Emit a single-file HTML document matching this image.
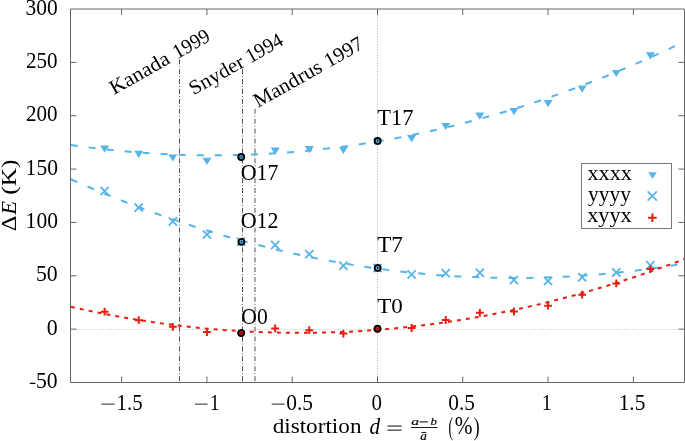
<!DOCTYPE html>
<html><head><meta charset="utf-8"><title>plot</title>
<style>
html,body{margin:0;padding:0;background:#fff;}
body{width:685px;height:441px;overflow:hidden;}
svg{display:block;will-change:transform;}
text{font-family:"Liberation Serif",serif;}
</style></head><body>
<svg width="685" height="441" viewBox="0 0 685 441" font-family="Liberation Serif, serif">
<rect width="685" height="441" fill="#fff"/>
<defs><clipPath id="c"><rect x="70.5" y="9.0" width="614.0" height="373.5"/></clipPath></defs>
<line x1="70.5" y1="329.5" x2="684.5" y2="329.5" stroke="#b8b8b8" stroke-width="0.8" stroke-dasharray="1 1.7"/>
<line x1="377.5" y1="9.0" x2="377.5" y2="382.5" stroke="#a0a0a0" stroke-width="0.8" stroke-dasharray="1 1.7"/>
<line x1="179.5" y1="57.5" x2="179.5" y2="382.5" stroke="#505050" stroke-width="1" stroke-dasharray="5 2 0.9 2" stroke-dashoffset="8.10"/>
<line x1="242.5" y1="68.5" x2="242.5" y2="382.5" stroke="#505050" stroke-width="1" stroke-dasharray="5 2 0.9 2" stroke-dashoffset="9.20"/>
<line x1="255.0" y1="108.6" x2="255.0" y2="382.5" stroke="#505050" stroke-width="1" stroke-dasharray="5 2 0.9 2" stroke-dashoffset="9.70"/>
<path clip-path="url(#c)" d="M70.5,144.886Q377.5,189.674 684.5,41.518" fill="none" stroke="#56b4e9" stroke-width="2.0" stroke-dasharray="7 11.07" stroke-dashoffset="17.8"/>
<path clip-path="url(#c)" d="M70.5,179.034Q377.5,315.920 684.5,263.440" fill="none" stroke="#56b4e9" stroke-width="2.0" stroke-dasharray="7 11.07" stroke-dashoffset="17.6"/>
<path clip-path="url(#c)" d="M70.5,306.708Q377.5,376.811 684.5,259.039" fill="none" stroke="#e51e10" stroke-width="2.0" stroke-dasharray="4 5.035" stroke-dashoffset="8.535"/>
<path d="M100.11,145.50H109.11L104.61,152.70Z" fill="#56b4e9"/>
<path d="M134.22,150.70H143.22L138.72,157.90Z" fill="#56b4e9"/>
<path d="M168.33,154.40H177.33L172.83,161.60Z" fill="#56b4e9"/>
<path d="M202.44,157.80H211.44L206.94,165.00Z" fill="#56b4e9"/>
<path d="M236.56,154.70H245.56L241.06,161.90Z" fill="#56b4e9"/>
<path d="M270.67,147.50H279.67L275.17,154.70Z" fill="#56b4e9"/>
<path d="M304.78,146.10H313.78L309.28,153.30Z" fill="#56b4e9"/>
<path d="M338.89,146.70H347.89L343.39,153.90Z" fill="#56b4e9"/>
<path d="M373.00,138.60H382.00L377.50,145.80Z" fill="#56b4e9"/>
<path d="M407.11,135.10H416.11L411.61,142.30Z" fill="#56b4e9"/>
<path d="M441.22,122.90H450.22L445.72,130.10Z" fill="#56b4e9"/>
<path d="M475.33,112.60H484.33L479.83,119.80Z" fill="#56b4e9"/>
<path d="M509.44,108.00H518.44L513.94,115.20Z" fill="#56b4e9"/>
<path d="M543.56,100.10H552.56L548.06,107.30Z" fill="#56b4e9"/>
<path d="M577.67,85.60H586.67L582.17,92.80Z" fill="#56b4e9"/>
<path d="M611.78,69.90H620.78L616.28,77.10Z" fill="#56b4e9"/>
<path d="M645.89,52.20H654.89L650.39,59.40Z" fill="#56b4e9"/>
<path d="M100.51,186.90L108.71,195.10M100.51,195.10L108.71,186.90" stroke="#56b4e9" stroke-width="1.8" fill="none"/>
<path d="M134.62,203.50L142.82,211.70M134.62,211.70L142.82,203.50" stroke="#56b4e9" stroke-width="1.8" fill="none"/>
<path d="M168.73,217.40L176.93,225.60M168.73,225.60L176.93,217.40" stroke="#56b4e9" stroke-width="1.8" fill="none"/>
<path d="M202.84,230.50L211.04,238.70M202.84,238.70L211.04,230.50" stroke="#56b4e9" stroke-width="1.8" fill="none"/>
<path d="M236.96,237.70L245.16,245.90M236.96,245.90L245.16,237.70" stroke="#56b4e9" stroke-width="1.8" fill="none"/>
<path d="M271.07,240.90L279.27,249.10M271.07,249.10L279.27,240.90" stroke="#56b4e9" stroke-width="1.8" fill="none"/>
<path d="M305.18,250.10L313.38,258.30M305.18,258.30L313.38,250.10" stroke="#56b4e9" stroke-width="1.8" fill="none"/>
<path d="M339.29,261.60L347.49,269.80M339.29,269.80L347.49,261.60" stroke="#56b4e9" stroke-width="1.8" fill="none"/>
<path d="M373.40,263.90L381.60,272.10M373.40,272.10L381.60,263.90" stroke="#56b4e9" stroke-width="1.8" fill="none"/>
<path d="M407.51,270.40L415.71,278.60M407.51,278.60L415.71,270.40" stroke="#56b4e9" stroke-width="1.8" fill="none"/>
<path d="M441.62,269.10L449.82,277.30M441.62,277.30L449.82,269.10" stroke="#56b4e9" stroke-width="1.8" fill="none"/>
<path d="M475.73,268.70L483.93,276.90M475.73,276.90L483.93,268.70" stroke="#56b4e9" stroke-width="1.8" fill="none"/>
<path d="M509.84,275.90L518.04,284.10M509.84,284.10L518.04,275.90" stroke="#56b4e9" stroke-width="1.8" fill="none"/>
<path d="M543.96,276.90L552.16,285.10M543.96,285.10L552.16,276.90" stroke="#56b4e9" stroke-width="1.8" fill="none"/>
<path d="M578.07,273.10L586.27,281.30M578.07,281.30L586.27,273.10" stroke="#56b4e9" stroke-width="1.8" fill="none"/>
<path d="M612.18,268.30L620.38,276.50M612.18,276.50L620.38,268.30" stroke="#56b4e9" stroke-width="1.8" fill="none"/>
<path d="M646.29,261.10L654.49,269.30M646.29,269.30L654.49,261.10" stroke="#56b4e9" stroke-width="1.8" fill="none"/>
<path d="M100.71,311.70H108.51M104.61,307.80V315.60" stroke="#e51e10" stroke-width="2.0" fill="none"/>
<path d="M134.82,320.20H142.62M138.72,316.30V324.10" stroke="#e51e10" stroke-width="2.0" fill="none"/>
<path d="M168.93,326.80H176.73M172.83,322.90V330.70" stroke="#e51e10" stroke-width="2.0" fill="none"/>
<path d="M203.04,332.00H210.84M206.94,328.10V335.90" stroke="#e51e10" stroke-width="2.0" fill="none"/>
<path d="M237.16,332.80H244.96M241.06,328.90V336.70" stroke="#e51e10" stroke-width="2.0" fill="none"/>
<path d="M271.27,328.40H279.07M275.17,324.50V332.30" stroke="#e51e10" stroke-width="2.0" fill="none"/>
<path d="M305.38,330.20H313.18M309.28,326.30V334.10" stroke="#e51e10" stroke-width="2.0" fill="none"/>
<path d="M339.49,333.60H347.29M343.39,329.70V337.50" stroke="#e51e10" stroke-width="2.0" fill="none"/>
<path d="M373.60,329.00H381.40M377.50,325.10V332.90" stroke="#e51e10" stroke-width="2.0" fill="none"/>
<path d="M407.71,328.00H415.51M411.61,324.10V331.90" stroke="#e51e10" stroke-width="2.0" fill="none"/>
<path d="M441.82,320.00H449.62M445.72,316.10V323.90" stroke="#e51e10" stroke-width="2.0" fill="none"/>
<path d="M475.93,312.80H483.73M479.83,308.90V316.70" stroke="#e51e10" stroke-width="2.0" fill="none"/>
<path d="M510.04,311.50H517.84M513.94,307.60V315.40" stroke="#e51e10" stroke-width="2.0" fill="none"/>
<path d="M544.16,305.70H551.96M548.06,301.80V309.60" stroke="#e51e10" stroke-width="2.0" fill="none"/>
<path d="M578.27,294.70H586.07M582.17,290.80V298.60" stroke="#e51e10" stroke-width="2.0" fill="none"/>
<path d="M612.38,283.40H620.18M616.28,279.50V287.30" stroke="#e51e10" stroke-width="2.0" fill="none"/>
<path d="M646.49,269.10H654.29M650.39,265.20V273.00" stroke="#e51e10" stroke-width="2.0" fill="none"/>
<circle cx="241.20" cy="157.00" r="3.9" fill="#000"/>
<circle cx="241.20" cy="157.00" r="2.0" fill="#56b4e9"/>
<circle cx="241.20" cy="157.00" r="0.8" fill="#000"/>
<circle cx="241.40" cy="241.80" r="3.9" fill="#000"/>
<circle cx="241.40" cy="241.80" r="2.0" fill="#56b4e9"/>
<circle cx="241.40" cy="241.80" r="0.8" fill="#000"/>
<circle cx="241.20" cy="333.10" r="3.9" fill="#000"/>
<circle cx="241.20" cy="333.10" r="2.0" fill="#e51e10"/>
<circle cx="241.20" cy="333.10" r="0.8" fill="#000"/>
<circle cx="377.60" cy="140.90" r="3.9" fill="#000"/>
<circle cx="377.60" cy="140.90" r="2.0" fill="#56b4e9"/>
<circle cx="377.60" cy="140.90" r="0.8" fill="#000"/>
<circle cx="377.70" cy="267.90" r="3.9" fill="#000"/>
<circle cx="377.70" cy="267.90" r="2.0" fill="#56b4e9"/>
<circle cx="377.70" cy="267.90" r="0.8" fill="#000"/>
<circle cx="377.50" cy="328.70" r="3.9" fill="#000"/>
<circle cx="377.50" cy="328.70" r="2.0" fill="#e51e10"/>
<circle cx="377.50" cy="328.70" r="0.8" fill="#000"/>
<path d="M70.5,9.0H684.5M70.5,382.5H684.5M70.5,9.0V382.5M684.5,9.0V382.5" fill="none" stroke="#666666" stroke-width="1"/>
<path d="M121.67,382.50v-6M121.67,9.00v6M206.94,382.50v-6M206.94,9.00v6M292.22,382.50v-6M292.22,9.00v6M377.50,382.50v-6M377.50,9.00v6M462.78,382.50v-6M462.78,9.00v6M548.06,382.50v-6M548.06,9.00v6M633.33,382.50v-6M633.33,9.00v6M70.50,62.36h6M684.50,62.36h-6M70.50,115.71h6M684.50,115.71h-6M70.50,169.07h6M684.50,169.07h-6M70.50,222.43h6M684.50,222.43h-6M70.50,275.79h6M684.50,275.79h-6M70.50,329.14h6M684.50,329.14h-6" stroke="#666666" stroke-width="1" fill="none"/>
<rect x="581.5" y="163.5" width="90" height="65" fill="#fff" stroke="#777" stroke-width="1"/>
<path d="M648.20,172.27H656.80L652.50,178.67Z" fill="#56b4e9"/>
<path d="M647.70,191.40L656.90,200.60M647.70,200.60L656.90,191.40" stroke="#56b4e9" stroke-width="1.8" fill="none"/>
<path d="M648.10,217.70H656.70M652.40,213.40V222.00" stroke="#e51e10" stroke-width="2.0" fill="none"/>
<text transform="translate(25.58,14.58) scale(1.0742,1.1185)" font-size="20.0" fill="#000">300</text>
<text transform="translate(25.90,67.93) scale(1.0530,1.1185)" font-size="20.0" fill="#000">250</text>
<text transform="translate(25.90,121.29) scale(1.0530,1.1185)" font-size="20.0" fill="#000">200</text>
<text transform="translate(25.62,174.65) scale(1.0764,1.1185)" font-size="20.0" fill="#000">150</text>
<text transform="translate(25.62,228.00) scale(1.0764,1.1185)" font-size="20.0" fill="#000">100</text>
<text transform="translate(35.94,281.36) scale(1.0889,1.1185)" font-size="20.0" fill="#000">50</text>
<text transform="translate(46.67,334.72) scale(1.0952,1.1185)" font-size="20.0" fill="#000">0</text>
<rect x="29.80" y="382.70" width="5.6" height="1.3" fill="#000"/>
<text transform="translate(35.95,388.07) scale(1.0833,1.1259)" font-size="20.0" fill="#000">50</text>
<rect x="101.50" y="403.68" width="13.00" height="0.85" fill="#000"/>
<text transform="translate(116.58,409.57) scale(1.0400,1.1111)" font-size="20.0" fill="#000">1.5</text>
<rect x="194.90" y="403.68" width="12.70" height="0.85" fill="#000"/>
<text transform="translate(209.67,409.50) scale(0.9859,1.1061)" font-size="20.0" fill="#000">1</text>
<rect x="271.70" y="403.68" width="12.90" height="0.85" fill="#000"/>
<text transform="translate(286.19,409.76) scale(1.0726,1.1176)" font-size="20.0" fill="#000">0.5</text>
<text transform="translate(371.51,409.77) scale(1.0476,1.1259)" font-size="20.0" fill="#000">0</text>
<text transform="translate(448.30,409.66) scale(1.0684,1.1250)" font-size="20.0" fill="#000">0.5</text>
<text transform="translate(541.85,409.60) scale(1.0000,1.1212)" font-size="20.0" fill="#000">1</text>
<text transform="translate(618.63,409.56) scale(1.0711,1.1259)" font-size="20.0" fill="#000">1.5</text>
<text transform="translate(377.30,125.40) scale(1.1218,1.1061)" font-size="20.0" fill="#000">T17</text>
<text transform="translate(240.67,180.16) scale(1.0939,1.2015)" font-size="20.0" fill="#000">O17</text>
<text transform="translate(240.77,228.06) scale(1.0954,1.1866)" font-size="20.0" fill="#000">O12</text>
<text transform="translate(377.19,252.40) scale(1.1557,1.1145)" font-size="20.0" fill="#000">T7</text>
<text transform="translate(241.28,324.16) scale(1.0833,1.2000)" font-size="20.0" fill="#000">O0</text>
<text transform="translate(377.29,312.98) scale(1.1524,1.0889)" font-size="20.0" fill="#000">T0</text>
<text transform="translate(587.43,179.70) scale(1.1136,1.0326)" font-size="20.0" fill="#000">xxxx</text>
<text transform="translate(587.94,200.78) scale(1.0730,1.0519)" font-size="20.0" fill="#000">yyyy</text>
<text transform="translate(587.13,222.28) scale(1.1162,1.0741)" font-size="20.0" fill="#000">xyyx</text>
<text transform="translate(114.50,94.80) rotate(-29.5) scale(1.0534,1) translate(-0.61,0)" font-size="20.5" fill="#000">Kanada</text>
<text transform="translate(178.82,58.41) rotate(-29.5) scale(0.9574,1) translate(-1.74,0)" font-size="20.5" fill="#000">1999</text>
<text transform="translate(194.80,94.90) rotate(-29.5) scale(1.0339,1) translate(-1.33,0)" font-size="20.5" fill="#000">Snyder</text>
<text transform="translate(251.72,62.70) rotate(-29.5) scale(0.9628,1) translate(-1.74,0)" font-size="20.5" fill="#000">1994</text>
<text transform="translate(258.50,107.80) rotate(-29.5) scale(1.0385,1) translate(-0.61,0)" font-size="20.5" fill="#000">Mandrus</text>
<text transform="translate(330.22,67.22) rotate(-29.5) scale(1.0093,1) translate(-1.74,0)" font-size="20.5" fill="#000">1997</text>
<text transform="translate(16.00,230.30) rotate(-90) scale(1.1771,1.05) translate(-0.82,0)" font-size="20.6">Δ</text>
<text transform="translate(16.00,215.00) rotate(-90) scale(1.0993,1.05) translate(0.21,0)" font-size="20.6" font-style="italic">E</text>
<text transform="translate(16.00,193.60) rotate(-90) scale(1.2360,1.05) translate(-0.93,0)" font-size="20.6">(K)</text>
<text transform="translate(272.64,433.38) scale(1.1598,1.0993)" font-size="20.0" fill="#000">distortion</text>
<text transform="translate(369.41,433.58) scale(1.0638,1.1206)" font-size="20.0" font-style="italic" fill="#000">d</text>
<rect x="387.40" y="425.57" width="14.30" height="0.95" fill="#000"/>
<rect x="387.40" y="429.67" width="14.30" height="0.95" fill="#000"/>
<text transform="translate(411.28,424.69) scale(0.7791,0.5312)" font-size="20.0" font-style="italic" fill="#000" stroke="#000" stroke-width="0.3">a</text>
<rect x="419.60" y="421.40" width="8.30" height="1.0" fill="#000"/>
<text transform="translate(430.40,424.69) scale(0.6437,0.5674)" font-size="20.0" font-style="italic" fill="#000" stroke="#000" stroke-width="0.3">b</text>
<rect x="410.90" y="427.05" width="26.50" height="0.9" fill="#000"/>
<text transform="translate(420.15,440.48) scale(0.6628,0.5937)" font-size="20.0" font-style="italic" fill="#000" stroke="#000" stroke-width="0.3">a</text>
<rect x="421.30" y="431.95" width="5.00" height="0.9" fill="#000"/>
<text transform="translate(448.55,435.20) scale(0.6667,1.2802)" font-size="20.0" fill="#000">(</text>
<text transform="translate(454.80,434.33) scale(1.0654,1.2353)" font-size="20.0" fill="#000">%</text>
<text transform="translate(473.72,435.20) scale(0.8846,1.2802)" font-size="20.0" fill="#000">)</text>
</svg>
</body></html>
